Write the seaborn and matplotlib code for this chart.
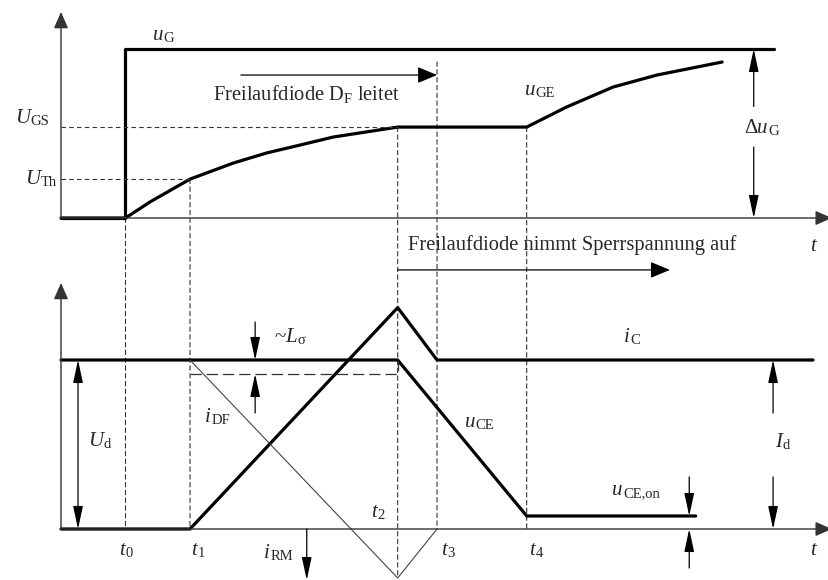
import numpy as np
import pandas as pd
import seaborn as sns
import matplotlib.pyplot as plt
from matplotlib.patches import ConnectionPatch

# Zeitpunkte t0..t4 (willkuerliche Einheiten)
t_marks = [1.0, 2.0, 5.22, 5.83, 7.22]
t_subs = ['0', '1', '2', '3', '4']
t0, t1, t2, t3, t4 = t_marks

# oberes Diagramm: Gatespannungen
u_G_t = [0, 1.0, 1.0, 11.05]
u_G_v = [0, 0, 10, 10]
u_GE_t = [0, 1.0, 1.38, 2.0, 2.67, 3.19, 3.71, 4.22, 5.22, 7.22, 7.84, 8.56, 9.24, 10.25]
u_GE_v = [0, 0, 0.95, 2.3, 3.25, 3.85, 4.32, 4.79, 5.38, 5.38, 6.57, 7.75, 8.46, 9.23]
U_GS = 5.38
U_Th = 2.3

# unteres Diagramm: Kollektorgroessen (bezogen auf U_d bzw. I_d)
u_CE_t = [0, 5.22, 7.22, 9.84]
u_CE_v = [1, 1, 0.077, 0.077]
i_C_t = [0, 2.0, 5.22, 5.83, 11.66]
i_C_v = [0, 0, 1.31, 1, 1]
i_DF_t = [2.0, 5.22, 5.83]
i_DF_v = [1, -0.29, 0]
L_s_level = 0.917

sns.set_style('white')
plt.rcParams['font.family'] = ['Liberation Serif', 'DejaVu Serif']
plt.rcParams['mathtext.fontset'] = 'custom'
plt.rcParams['mathtext.rm'] = 'Liberation Serif'
plt.rcParams['mathtext.it'] = 'Liberation Serif:italic'

W, H = 829, 580
fig = plt.figure(figsize=(W / 100, H / 100), dpi=100)
ax1 = fig.add_axes([0, 0, 1, 1])
ax2 = fig.add_axes([0, 0, 1, 1])

# Skalierung (Pixel je Einheit) fuer die Lage der Diagramme
px_t, x0 = 64.5, 61
px_u, y0_top = 16.9, 218
px_i, y0_bot = 169, 529

thick = dict(color='black', lw=2.3, estimator=None, sort=False, legend=False)
sns.lineplot(x=u_G_t, y=u_G_v, ax=ax1, **thick)
sns.lineplot(x=u_GE_t, y=u_GE_v, ax=ax1, **thick)
sns.lineplot(x=u_CE_t, y=u_CE_v, ax=ax2, **thick)
sns.lineplot(x=i_C_t, y=i_C_v, ax=ax2, **thick)
sns.lineplot(x=i_DF_t, y=i_DF_v, ax=ax2, color='#444444', lw=0.8,
             estimator=None, sort=False, legend=False)

for ax in (ax1, ax2):
    ax.set_xlim(-x0 / px_t, (W - x0) / px_t)
    ax.axis('off')
ax1.set_ylim((y0_top - H) / px_u, y0_top / px_u)
ax2.set_ylim((y0_bot - H) / px_i, y0_bot / px_i)

gray = '#333333'


def arrow(style, color='black', lw=0.9):
    return dict(arrowstyle=style, color=color, lw=lw, mutation_scale=20,
                shrinkA=0, shrinkB=0)


def pfeil(ax, tip, tail, props):
    ax.annotate('', xy=tip, xytext=tail, arrowprops=props, annotation_clip=False)


def label(ax, x, y, main, sub, size=15, subsize=10.5, drop=1.5, pre=None, pre_dx=-7.5):
    # Hauptzeichen (kursiv) rechtsbuendig, Index linksbuendig am gleichen Punkt
    ax.text(x, y, main, fontsize=size, ha='right', va='baseline', style='italic')
    if pre is not None:
        # aufrechtes Vorzeichen vor dem kursiven Buchstaben
        ax.annotate(pre, xy=(x, y), xytext=(pre_dx, 0), textcoords='offset points',
                    fontsize=size, ha='right', va='baseline', annotation_clip=False)
    ax.annotate(sub, xy=(x, y), xytext=(0.3, -drop), textcoords='offset points',
                fontsize=subsize, ha='left', va='baseline', annotation_clip=False)


big = arrow('-|>,head_length=0.5,head_width=0.22', gray, 1.0)
flow = arrow('-|>,head_length=0.6,head_width=0.25')
small = arrow('-|>,head_length=0.7,head_width=0.15')
dbl = arrow('<|-|>,head_length=0.7,head_width=0.15')

# Koordinatenachsen
t_end = 11.95
pfeil(ax1, (0, 12.19), (0, 0), big)
pfeil(ax1, (t_end, 0), (0, 0), big)
pfeil(ax2, (0, 1.456), (0, 0), big)
pfeil(ax2, (t_end, 0), (0, 0), big)

# Hilfslinien
dash = dict(color=gray, lw=0.8, ls=(0, (4, 3)))
ax1.plot([0, t1], [U_Th, U_Th], **dash)
ax1.plot([0, t2], [U_GS, U_GS], **dash)
v_top = [0, U_Th, U_GS, 9.23, U_GS]
v_bot = [0, 0, -0.29, 0, 0]
for t, ya, yb in zip(t_marks, v_top, v_bot):
    cp = ConnectionPatch(xyA=(t, ya), coordsA=ax1.transData, xyB=(t, yb),
                         coordsB=ax2.transData, color=gray, lw=0.8,
                         ls=(0, (4, 3)), zorder=-1)
    fig.add_artist(cp)
ax2.plot([t1, t2, t2], [L_s_level, L_s_level, 1], color=gray, lw=0.9, ls=(0, (9, 4)))

fs_txt = 14.8
# Beschriftungen oben
label(ax1, 1.581, 10.53, 'u', 'G')
label(ax1, -0.481, 5.62, 'U', 'GS')
label(ax1, -0.326, 2.01, 'U', 'Th')
label(ax1, 7.35, 7.28, 'u', 'GE')
label(ax1, 10.96, 5.03, 'u', 'G', pre='Δ')
ax1.text(3.81, 6.98, 'Freilaufdiode D$_{\\mathrm{F}}$ leitet', fontsize=fs_txt,
         ha='center', va='baseline')
pfeil(ax1, (t3, 8.46), (2.79, 8.46), flow)
pfeil(ax1, (10.74, 10), (10.74, 6.6), small)
pfeil(ax1, (10.74, 0), (10.74, 4.2), small)
ax1.text(11.66, -1.95, 't', fontsize=15, ha='center', va='baseline', style='italic')
ax1.text(7.92, -1.89, 'Freilaufdiode nimmt Sperrspannung auf', fontsize=fs_txt,
         ha='center', va='baseline')

# Beschriftungen unten
pfeil(ax2, (9.44, 1.533), (t2, 1.533), flow)
label(ax2, 8.82, 1.107, 'i', 'C')
label(ax2, 3.66, 1.107, 'L', 'σ', pre='~', pre_dx=-8.0)
pfeil(ax2, (3.01, 1.0), (3.01, 1.225), small)
pfeil(ax2, (3.01, L_s_level), (3.01, 0.686), small)
pfeil(ax2, (0.264, 1.0), (0.264, 0), dbl)
label(ax2, 0.651, 0.491, 'U', 'd')
label(ax2, 2.326, 0.633, 'i', 'DF')
label(ax2, 6.42, 0.604, 'u', 'CE')
label(ax2, 8.71, 0.201, 'u', 'CE,on')
pfeil(ax2, (9.74, 0.077), (9.74, 0.308), small)
pfeil(ax2, (9.74, 0), (9.74, -0.231), small)
pfeil(ax2, (11.04, 1.0), (11.04, 0.686), small)
pfeil(ax2, (11.04, 0), (11.04, 0.308), small)
label(ax2, 11.18, 0.485, 'I', 'd')
pfeil(ax2, (3.81, -0.302), (3.81, 0), small)
label(ax2, 3.24, -0.172, 'i', 'RM')
label(ax2, 4.90, 0.071, 't', '2')
t_lab_x = [0.992, 2.109, None, 5.98, 7.35]
for tx, sub in zip(t_lab_x, t_subs):
    if tx is not None:
        label(ax2, tx, -0.154, 't', sub)
ax2.text(11.66, -0.154, 't', fontsize=15, ha='center', va='baseline', style='italic')

fig.savefig('out.png', dpi=100)
